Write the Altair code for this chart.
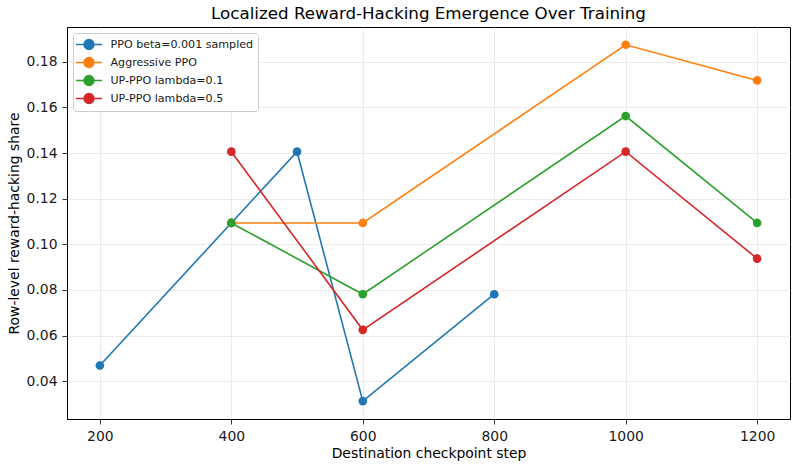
import altair as alt
import pandas as pd

series_names = ["PPO beta=0.001 sampled", "Aggressive PPO", "UP-PPO lambda=0.1", "UP-PPO lambda=0.5"]
colors = ["#1f77b4", "#ff7f0e", "#2ca02c", "#d62728"]

ppo_steps = [200, 400, 500, 600, 800]
ppo_vals = [0.046875, 0.109375, 0.140625, 0.03125, 0.078125]
aggr_steps = [400, 600, 1000, 1200]
aggr_vals = [0.109375, 0.109375, 0.1875, 0.171875]
up01_steps = [400, 600, 1000, 1200]
up01_vals = [0.109375, 0.078125, 0.15625, 0.109375]
up05_steps = [400, 600, 1000, 1200]
up05_vals = [0.140625, 0.0625, 0.140625, 0.09375]

x_ticks = [200, 400, 600, 800, 1000, 1200]
y_ticks = [0.04, 0.06, 0.08, 0.10, 0.12, 0.14, 0.16, 0.18]

rows = []
for name, steps, vals in zip(series_names,
                             [ppo_steps, aggr_steps, up01_steps, up05_steps],
                             [ppo_vals, aggr_vals, up01_vals, up05_vals]):
    for s, v in zip(steps, vals):
        rows.append({"series": name, "step": s, "share": v})
df = pd.DataFrame(rows)

color = alt.Color(
    "series:N",
    scale=alt.Scale(domain=series_names, range=colors),
    sort=series_names,
    legend=alt.Legend(
        title=None,
        orient="none",
        legendX=6,
        legendY=6,
        symbolType="M-2,0H2M-0.75,0A0.75,0.75 0 1,1 0.75,0A0.75,0.75 0 1,1 -0.75,0Z",
        symbolSize=169,
        symbolOffset=4.5,
        symbolStrokeWidth=1.6,
        labelFont="DejaVu Sans",
        labelFontSize=11.1,
        labelColor="#1a1a1a",
        rowPadding=1,
        padding=4,
        strokeColor="#cccccc",
        fillColor="white",
        cornerRadius=3,
        labelOffset=14,
    ),
)

x = alt.X("step:Q", scale=alt.Scale(domain=[150, 1250], nice=False, zero=False),
          axis=alt.Axis(values=x_ticks, title="Destination checkpoint step", format="d"))
y = alt.Y("share:Q", scale=alt.Scale(domain=[0.0234, 0.1953], nice=False, zero=False),
          axis=alt.Axis(values=y_ticks, title="Row-level reward-hacking share", format=".2f"))

base = alt.Chart(df)
lines = base.mark_line(strokeWidth=1.6).encode(x=x, y=y, color=color, order="step:Q")
points = base.mark_point(filled=True, size=75, opacity=1, shape="circle").encode(x=x, y=y, color=color)

chart = alt.layer(lines, points).properties(
    width=723,
    height=392,
    autosize=alt.AutoSizeParams(type="none"),
    padding={"left": 67, "top": 27, "right": 6, "bottom": 50},
    title=alt.TitleParams("Localized Reward-Hacking Emergence Over Training",
                          font="DejaVu Sans", fontSize=16.7, fontWeight="normal",
                          color="#000000", offset=4),
).configure_view(stroke="#000000", strokeWidth=1).configure_axis(
    labelFont="DejaVu Sans", titleFont="DejaVu Sans",
    labelFontSize=13.9, titleFontSize=13.9, titleFontWeight="normal",
    labelColor="#1a1a1a", titleColor="#000000",
    grid=True, gridColor="#e6e6e6", gridWidth=0.8,
    domainColor="#000000", tickColor="#000000", tickSize=5, tickWidth=0.8,
    labelPadding=5,
).configure_axisX(titlePadding=4).configure_axisY(titlePadding=5)

chart.save("out.html", embed_options={"renderer": "svg", "actions": False})
